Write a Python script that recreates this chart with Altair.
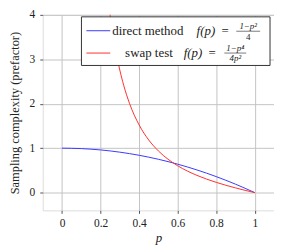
import altair as alt
import pandas as pd

# data
p_blue = [0.0, 0.1, 0.2, 0.3, 0.4, 0.5, 0.6, 0.7, 0.8, 0.9, 1.0]
f_blue = [1.0, 0.99, 0.96, 0.91, 0.84, 0.75, 0.64, 0.51, 0.36, 0.19, 0.0]

p_red = [0.24, 0.25, 0.26, 0.28, 0.30, 0.32, 0.35, 0.40, 0.45, 0.50, 0.55, 0.60,
         0.65, 0.70, 0.75, 0.80, 0.85, 0.90, 0.95, 1.0]
f_red = [4.326, 3.984, 3.681, 3.169, 2.755, 2.416, 2.010, 1.523, 1.184, 0.938, 0.751, 0.604,
         0.486, 0.388, 0.304, 0.231, 0.165, 0.106, 0.051, 0.0]

x_ticks = [0, 0.2, 0.4, 0.6, 0.8, 1]
y_ticks = [0, 1, 2, 3, 4]

FONT = "'Liberation Serif', 'Times New Roman', 'DejaVu Serif', serif"
W, H = 233, 197

df_blue = pd.DataFrame({"p": p_blue, "f": f_blue})
df_red = pd.DataFrame({"p": p_red, "f": f_red})

xs = alt.Scale(domain=[-0.1, 1.1], nice=False, zero=False)
ys = alt.Scale(domain=[-0.4, 4], nice=False, zero=False)

xax = alt.Axis(values=x_ticks, format="~g", labelFont=FONT, labelFontSize=11.5, labelColor="#222",
               title="p", titleFont=FONT, titleFontStyle="italic", titleFontWeight="normal",
               titleFontSize=13, titleColor="#222", gridColor="#c4c4c4", gridWidth=1,
               tickColor="#555", tickSize=3, domain=False, labelPadding=4, titlePadding=3)
yax = alt.Axis(values=y_ticks, format="d", labelFont=FONT, labelFontSize=11.5, labelColor="#222",
               title="Sampling complexity (prefactor)", titleFont=FONT, titleFontWeight="normal",
               titleFontSize=12.5, titleColor="#222", gridColor="#c4c4c4", gridWidth=1,
               tickColor="#555", tickSize=3, domain=False, labelPadding=5, titlePadding=8)

blue = alt.Chart(df_blue).mark_line(color="#3a3aff", strokeWidth=1, interpolate="monotone", clip=True).encode(
    x=alt.X("p:Q", scale=xs, axis=xax),
    y=alt.Y("f:Q", scale=ys, axis=yax),
)
red = alt.Chart(df_red).mark_line(color="#ff3030", strokeWidth=1, interpolate="monotone", clip=True).encode(
    x=alt.X("p:Q", scale=xs),
    y=alt.Y("f:Q", scale=ys),
)

# legend (decoration)
BW = 190
BX = W - 4 - BW
one = pd.DataFrame({"a": [0]})
box = alt.Chart(one).mark_rect(fill="white", stroke="#333", strokeWidth=1).encode(
    x=alt.value(BX), x2=alt.value(BX + BW), y=alt.value(2), y2=alt.value(51))
l1 = alt.Chart(one).mark_rule(color="#3a3aff", strokeWidth=1).encode(
    x=alt.value(BX + 5), x2=alt.value(BX + 29), y=alt.value(16))
l2 = alt.Chart(one).mark_rule(color="#ff3030", strokeWidth=1).encode(
    x=alt.value(BX + 5), x2=alt.value(BX + 29), y=alt.value(38.5))

def txt(s, x, y, size=13, align="left", style="normal"):
    return alt.Chart(one).mark_text(text=s, font=FONT, fontSize=size, align=align, baseline="middle",
                                    color="#222", fontStyle=style).encode(x=alt.value(x), y=alt.value(y))

def bar(x1, x2, y):
    return alt.Chart(one).mark_rule(color="#222", strokeWidth=0.6).encode(
        x=alt.value(x1), x2=alt.value(x2), y=alt.value(y))

R1, R2 = 16.5, 38.5
t1 = txt("direct method", BX + 31, R1)
t1b = txt("f(p)", BX + 116, R1, style="italic")
t1c = txt("=", BX + 141, R1)
n1 = txt("1−p²", BX + 168, 11, size=9, align="center", style="italic")
fr1 = bar(BX + 156, BX + 180, R1)
d1 = txt("4", BX + 168, 22, size=9, align="center")

t2 = txt("swap test", BX + 44, R2)
t2b = txt("f(p)", BX + 103, R2, style="italic")
t2c = txt("=", BX + 128, R2)
n2 = txt("1−p⁴", BX + 155, 33.5, size=9, align="center", style="italic")
fr2 = bar(BX + 144, BX + 166, R2)
d2 = txt("4p²", BX + 155, 44, size=9, align="center", style="italic")

chart = alt.layer(blue, red, box, l1, l2, t1, t1b, t1c, n1, fr1, d1,
                  t2, t2b, t2c, n2, fr2, d2).properties(
    width=W, height=H, padding={"left": 0, "top": 0, "right": 0, "bottom": 0}
).configure_view(stroke="#222", strokeWidth=1).configure(background="white")

chart.save("out.html", embed_options={"renderer": "svg", "actions": False})
